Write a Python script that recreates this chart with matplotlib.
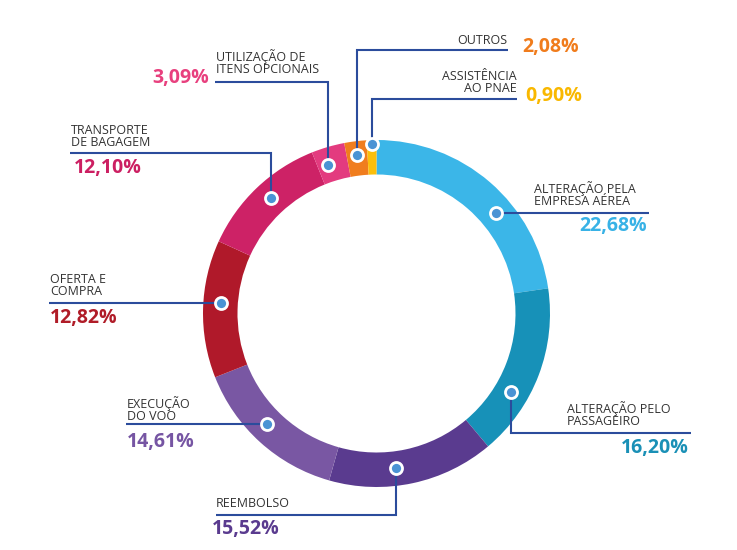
import numpy as np
import matplotlib
matplotlib.use('Agg')
import matplotlib.pyplot as plt

# data, clockwise from 12 o'clock
categories = ['ALTERAÇÃO PELA\nEMPRESA AÉREA', 'ALTERAÇÃO PELO\nPASSAGEIRO', 'REEMBOLSO',
              'EXECUÇÃO\nDO VOO', 'OFERTA E\nCOMPRA', 'TRANSPORTE\nDE BAGAGEM',
              'UTILIZAÇÃO DE\nITENS OPCIONAIS', 'OUTROS', 'ASSISTÊNCIA\nAO PNAE']
values = [22.68, 16.20, 15.52, 14.61, 12.82, 12.10, 3.09, 2.08, 0.90]
colors = ['#3bb6e8', '#1791b8', '#5a3b8f', '#7957a3', '#b0192a', '#cd2266',
          '#e33b7f', '#f07d1e', '#fbbf0c']
pct_colors = ['#38b2e6', '#1a90b6', '#5a3b8f', '#7655a3', '#b01c28', '#cc1f62',
              '#e8407e', '#f07c1c', '#f9b800']

W, H = 737, 550
CX, CY, R, RING = 376.5, 313.5, 173.5, 34.5
LINE = '#2b4c9c'
DOT = '#4a93d4'
TXT = '#333333'

# layout per label (pixel coords, y from top):
# dot fraction along wedge, dot radius, leader type, line y, line end x,
# text x, text baseline, text align, pct x, pct baseline, pct align
layout = [
    (0.61, 156, 'h', None, 649, 534, 205, 'left', 647, 231, 'right'),
    (0.66, 156, 'vh', 433, 691, 567, 425, 'left', 689, 453, 'right'),
    (0.59, 156, 'vh', 515, 216, 216, 507, 'left', 212, 534, 'left'),
    (0.55, 156, 'h', None, 126, 127, 420, 'left', 127, 447, 'left'),
    (0.55, 156, 'h', None, 49, 50, 295, 'left', 50, 323, 'left'),
    (0.53, 156, 'vh', 153, 70, 71, 146, 'left', 74, 173, 'left'),
    (0.32, 156, 'vh', 82, 215, 216, 73, 'left', 209, 83, 'right'),
    (0.50, 160, 'vh', 50, 508, 507, 44, 'right', 522, 52, 'left'),
    (0.50, 170, 'vh', 99, 517, 517, 92, 'right', 525, 101, 'left'),
]

plt.rcParams['font.family'] = ['Open Sans', 'DejaVu Sans']

fig = plt.figure(figsize=(W / 100, H / 100), dpi=100)
ax = fig.add_axes([0, 0, 1, 1])

wedges, _ = ax.pie(values, colors=colors, startangle=90, counterclock=False,
                   center=(CX, H - CY), radius=R,
                   wedgeprops=dict(width=RING, linewidth=0))
ax.set_xlim(0, W)
ax.set_ylim(0, H)
ax.set_aspect('equal')
ax.axis('off')

for w, cat, val, pc, lay in zip(wedges, categories, values, pct_colors, layout):
    frac, rad, kind, ly, xend, tx, ty, ta, px, py, pa = lay
    ang = np.deg2rad(w.theta2 - frac * (w.theta2 - w.theta1))
    dx = CX + rad * np.cos(ang)
    dy = (H - CY) + rad * np.sin(ang)
    if kind == 'h':
        ax.plot([dx, xend], [dy, dy], color=LINE, lw=1.5, zorder=3, solid_capstyle='butt')
    else:
        ax.plot([dx, dx, xend], [dy, H - ly, H - ly], color=LINE, lw=1.5, zorder=3,
                solid_capstyle='butt', solid_joinstyle='miter')
    ax.scatter([dx], [dy], s=75, color=DOT, edgecolors='white', linewidths=2, zorder=4)
    ax.text(tx, H - ty, cat, ha=ta, va='baseline', fontsize=9, color=TXT,
            linespacing=0.93, multialignment=ta)
    pct = f'{val:.2f}'.replace('.', ',') + '%'
    ax.text(px, H - py, pct, ha=pa, va='baseline', fontsize=14, fontweight='bold',
            color=pc)

fig.savefig('out.png', dpi=100)
